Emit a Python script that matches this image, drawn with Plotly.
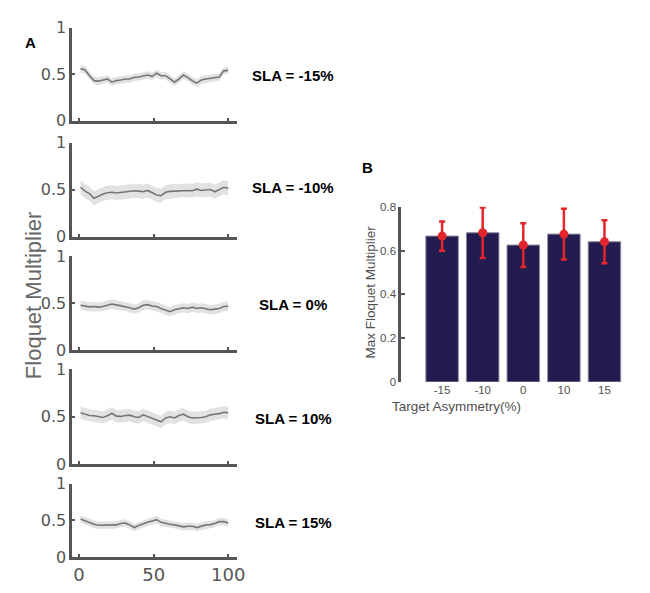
import plotly.graph_objects as go

# ---------------- data ----------------
time_pct = [1, 4, 7, 10, 13, 16, 19, 22, 25, 28, 31, 34, 37, 40, 43, 46, 49,
            52, 55, 58, 61, 64, 67, 70, 73, 76, 79, 82, 85, 88, 91, 94, 97, 100]

fm_sla_m15 = [0.559, 0.545, 0.483, 0.430, 0.424, 0.434, 0.448, 0.413, 0.430, 0.437,
              0.448, 0.448, 0.465, 0.469, 0.476, 0.490, 0.476, 0.510, 0.483, 0.483,
              0.448, 0.413, 0.448, 0.490, 0.462, 0.427, 0.403, 0.437, 0.448, 0.455,
              0.462, 0.469, 0.535, 0.540]
fm_sla_m10 = [0.527, 0.486, 0.459, 0.410, 0.431, 0.455, 0.469, 0.473, 0.466, 0.473,
              0.479, 0.483, 0.490, 0.486, 0.479, 0.493, 0.473, 0.445, 0.438, 0.473,
              0.483, 0.486, 0.493, 0.497, 0.493, 0.490, 0.507, 0.493, 0.500, 0.503,
              0.479, 0.507, 0.527, 0.517]
fm_sla_0 = [0.476, 0.469, 0.459, 0.463, 0.456, 0.463, 0.476, 0.490, 0.480, 0.469,
            0.466, 0.449, 0.435, 0.449, 0.476, 0.483, 0.469, 0.463, 0.442, 0.422,
            0.408, 0.429, 0.442, 0.449, 0.442, 0.456, 0.442, 0.449, 0.439, 0.429,
            0.435, 0.442, 0.463, 0.466]
fm_sla_10 = [0.543, 0.527, 0.513, 0.510, 0.503, 0.493, 0.510, 0.537, 0.507, 0.503,
             0.513, 0.517, 0.500, 0.493, 0.520, 0.503, 0.487, 0.467, 0.447, 0.487,
             0.500, 0.487, 0.513, 0.527, 0.500, 0.487, 0.487, 0.493, 0.500, 0.520,
             0.527, 0.533, 0.547, 0.543]
fm_sla_15 = [0.518, 0.491, 0.464, 0.447, 0.433, 0.433, 0.438, 0.429, 0.438, 0.456,
             0.464, 0.438, 0.402, 0.429, 0.456, 0.473, 0.491, 0.509, 0.473, 0.456,
             0.447, 0.438, 0.429, 0.411, 0.420, 0.420, 0.402, 0.420, 0.438, 0.442,
             0.456, 0.482, 0.482, 0.464]

sla_labels = ["SLA = -15%", "SLA = -10%", "SLA = 0%", "SLA = 10%", "SLA = 15%"]
band_halfwidth = [0.04, 0.075, 0.05, 0.065, 0.05]

target_asym = ["-15", "-10", "0", "10", "15"]
max_fm_mean = [0.666, 0.681, 0.625, 0.675, 0.640]
max_fm_err = [0.067, 0.115, 0.100, 0.116, 0.098]

# ---------------- layout helpers ----------------
W, H = 650, 593


def xd(left, right):
    return [left / W, right / W]


def yd(top, bottom):
    return [1 - bottom / H, 1 - top / H]


series = [fm_sla_m15, fm_sla_m10, fm_sla_0, fm_sla_10, fm_sla_15]
panel_rows = [(11, 107), (130, 227), (247, 344), (364, 462), (482, 558)]
label_y = [60, 176, 297, 415, 522]

AX = "#555555"
FONT = "Liberation Sans, Arial, sans-serif"
TICKFONT_A = "DejaVu Sans, sans-serif"

fig = go.Figure()
layout = dict(
    width=W, height=H, margin=dict(l=0, r=0, t=0, b=0),
    paper_bgcolor="white", plot_bgcolor="white", showlegend=False,
    font=dict(family=FONT),
)
annotations = []

for i, ys in enumerate(series):
    n = i + 1
    xa, ya = f"x{n}", f"y{n}"
    hw = band_halfwidth[i]
    upper = [v + hw for v in ys]
    lower = [v - hw for v in ys]
    fig.add_trace(go.Scatter(
        x=time_pct + time_pct[::-1], y=upper + lower[::-1],
        fill="toself", fillcolor="#E2E2E2", line=dict(width=0),
        mode="lines", hoverinfo="skip", xaxis=xa, yaxis=ya))
    fig.add_trace(go.Scatter(
        x=time_pct, y=ys, mode="lines",
        line=dict(color="#767676", width=1.6), xaxis=xa, yaxis=ya))
    top, bot = panel_rows[i]
    layout[f"xaxis{n}"] = dict(
        domain=xd(65, 232), range=[-4.6, 106], anchor=ya,
        showline=True, linecolor=AX, linewidth=2.5,
        ticks="inside", ticklen=3, tickwidth=2, tickcolor=AX,
        tickvals=[0, 50, 100], showticklabels=(n == 5),
        tickfont=dict(size=18, color=AX, family=TICKFONT_A),
        showgrid=False, zeroline=False)
    layout[f"yaxis{n}"] = dict(
        domain=yd(top, bot), range=[0, 1], anchor=xa,
        showline=True, linecolor=AX, linewidth=2.5,
        ticks="inside", ticklen=3, tickwidth=2, tickcolor=AX,
        tickvals=[0, 0.5, 1], ticktext=["0", "0.5", "1"],
        tickfont=dict(size=16, color=AX, family=TICKFONT_A),
        showgrid=False, zeroline=False)
    annotations.append(dict(
        text=f"<b>{sla_labels[i]}</b>", x=289 / W, y=1 - label_y[i] / H,
        xref="paper", yref="paper", xanchor="center", yanchor="middle",
        showarrow=False, font=dict(size=15, color="black", family=FONT)))

# ---------------- panel B ----------------
bx = list(range(len(target_asym)))
fig.add_trace(go.Bar(
    x=bx, y=max_fm_mean, width=0.8,
    marker=dict(color="#221C50", line=dict(color="#8A8A9A", width=1)),
    xaxis="x6", yaxis="y6"))
fig.add_trace(go.Scatter(
    x=bx, y=max_fm_mean, mode="markers",
    marker=dict(color="#E3262B", size=9),
    error_y=dict(type="data", array=max_fm_err, color="#E3262B",
                 thickness=2.5, width=3),
    xaxis="x6", yaxis="y6"))
layout["xaxis6"] = dict(
    domain=xd(398, 645), range=[-1.01, 5.0], anchor="y6",
    showline=False, ticks="", tickvals=bx, ticktext=target_asym,
    tickfont=dict(size=11.5, color="#505050"), showgrid=False, zeroline=False)
layout["yaxis6"] = dict(
    domain=yd(196, 377), range=[0, 0.8], anchor="x6",
    showline=True, linecolor=AX, linewidth=2.5,
    ticks="inside", ticklen=4, tickwidth=2, tickcolor=AX,
    tickvals=[0, 0.2, 0.4, 0.6, 0.8], ticktext=["0", "0.2", "0.4", "0.6", "0.8"],
    tickfont=dict(size=11.5, color="#505050"), showgrid=False, zeroline=False)

annotations += [
    dict(text="<b>A</b>", x=15 / W, y=1 - 15 / H, xref="paper", yref="paper",
         showarrow=False, font=dict(size=15, color="black", family=FONT)),
    dict(text="<b>B</b>", x=364 / W, y=1 - 145 / H, xref="paper", yref="paper",
         showarrow=False, font=dict(size=15, color="black", family=FONT)),
    dict(text="Floquet Multiplier", x=11 / W, y=1 - 287 / H, xref="paper",
         yref="paper", textangle=-90, showarrow=False,
         font=dict(size=22, color="#666666", family=FONT)),
    dict(text="Max Floquet Multiplier", x=367 / W, y=1 - 284 / H, xref="paper",
         yref="paper", textangle=-90, showarrow=False,
         font=dict(size=13.5, color="#505050", family=FONT)),
    dict(text="Target Asymmetry(%)", x=521 / W, y=1 - 412 / H, xref="paper",
         yref="paper", showarrow=False,
         font=dict(size=13.5, color="#505050", family=FONT)),
]
layout["annotations"] = annotations
fig.update_layout(**layout)
fig.write_html("out.html")
